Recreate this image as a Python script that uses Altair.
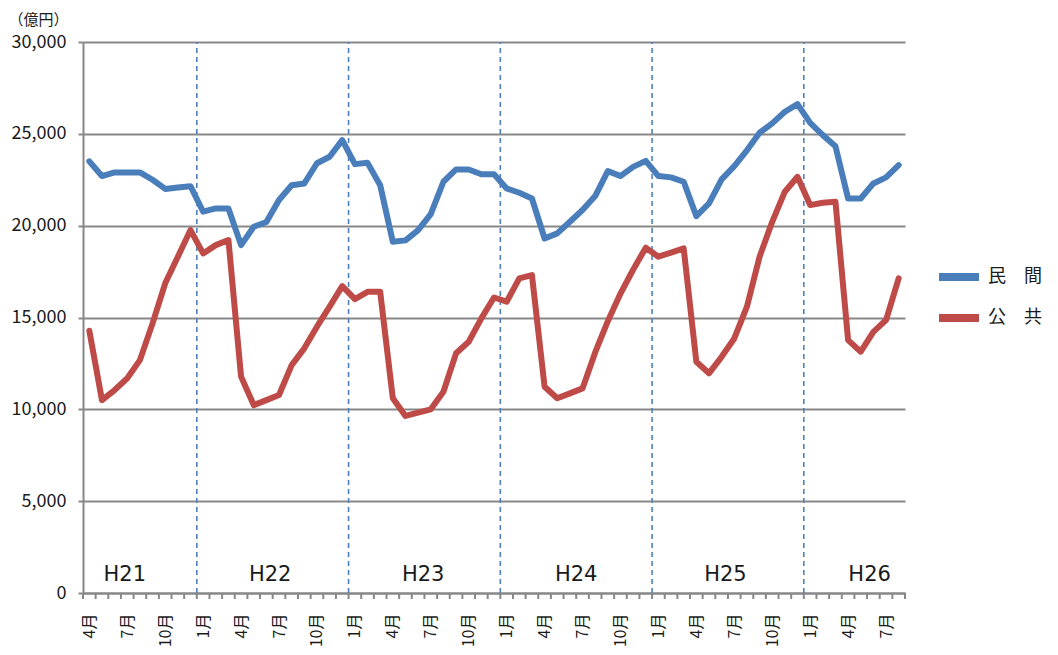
import json
import altair as alt
import pandas as pd

FONT = "Noto Sans CJK JP"

# ---- data (億円), monthly from H21 April to H26 August ----
month_names = ["4月", "5月", "6月", "7月", "8月", "9月", "10月", "11月", "12月", "1月", "2月", "3月"]
private = [23500, 22700, 22900, 22900, 22900, 22500, 22000, 22080, 22150,
           20760, 20940, 20940, 18940, 19940, 20200, 21400, 22200, 22300, 23400, 23750, 24660,
           23350, 23420, 22200, 19120, 19200, 19760, 20630, 22390, 23060, 23060, 22800, 22800,
           22030, 21790, 21480, 19300, 19580, 20210, 20850, 21610, 22970, 22700, 23200, 23530,
           22700, 22630, 22390, 20520, 21210, 22520, 23240, 24100, 25060, 25570, 26200, 26620,
           25600, 24930, 24330, 21480, 21480, 22300, 22630, 23300]
public = [14280, 10500, 11050, 11690, 12680, 14680, 16860, 18310, 19760,
          18490, 18940, 19220, 11780, 10230, 10500, 10780, 12410, 13320, 14500, 15590, 16710,
          16000, 16400, 16400, 10600, 9640, 9820, 10000, 10960, 13050, 13680, 14950, 16090,
          15860, 17130, 17310, 11230, 10600, 10870, 11140, 13100, 14800, 16300, 17600, 18800,
          18310, 18530, 18760, 12590, 11960, 12860, 13860, 15590, 18310, 20210, 21850, 22660,
          21120, 21250, 21300, 13770, 13140, 14220, 14860, 17130]
series_names = ["民　間", "公　共"]
series_colors = ["#4A7EBB", "#BE4B48"]
year_labels = ["H21", "H22", "H23", "H24", "H25", "H26"]
year_label_pos = [2.8, 14.3, 26.4, 38.5, 50.3, 61.7]
year_breaks = [8.5, 20.5, 32.5, 44.5, 56.5]
y_ticks = [0, 5000, 10000, 15000, 20000, 25000, 30000]

n = len(private)
period_labels = [month_names[i % 12] for i in range(n)]

lines_df = pd.DataFrame(
    [{"x": i, "y": v, "series": series_names[0]} for i, v in enumerate(private)]
    + [{"x": i, "y": v, "series": series_names[1]} for i, v in enumerate(public)]
)
breaks_df = pd.DataFrame({"x": year_breaks, "y": [0] * len(year_breaks), "y2": [30000] * len(year_breaks)})
ticks_df = pd.DataFrame({"x": [k - 0.5 for k in range(n + 1)], "y": [0] * (n + 1), "y2": [0] * (n + 1)})
text_df = pd.DataFrame({"x": year_label_pos, "y": [1000] * len(year_labels), "label": year_labels})

GRAY = "#888888"
TXT = "#1a1a1a"

x_enc = alt.X(
    "x:Q",
    scale=alt.Scale(domain=[-0.5, n - 0.5], nice=False, zero=False),
    axis=alt.Axis(
        values=list(range(0, n, 3)),
        labelExpr=f"{json.dumps(period_labels, ensure_ascii=False)}[datum.value]",
        labelAngle=270, labelAlign="right", labelBaseline="middle",
        labelPadding=20, labelFontSize=16, labelColor=TXT, labelFont=FONT,
        labelOverlap=False, labelFlush=False, labelLimit=200,
        ticks=False, grid=False, domainColor=GRAY, domainWidth=2, title=None,
    ),
)
y_axis = alt.Axis(
    values=y_ticks, format=",.0f", grid=True, gridColor=GRAY, gridWidth=2,
    domainColor=GRAY, domainWidth=2, tickColor=GRAY, tickSize=5, tickWidth=2,
    labelFontSize=18, labelPadding=12, labelColor=TXT, labelFont=FONT,
    title="（億円）", titleAngle=0, titleAlign="left", titleBaseline="middle",
    titleX=-75, titleY=-23, titleFontSize=15, titleFontWeight="normal",
    titleColor=TXT, titleFont=FONT,
)
y_scale = alt.Scale(domain=[0, 30000], nice=False, zero=True)
y_enc = alt.Y("y:Q", scale=y_scale, axis=y_axis)

breaks = alt.Chart(breaks_df).mark_rule(
    color="#4F81BD", strokeWidth=1.6, strokeDash=[5, 4]
).encode(x=x_enc, y=y_enc, y2="y2:Q")

ticks = alt.Chart(ticks_df).mark_rule(
    color=GRAY, strokeWidth=2, y2Offset=6
).encode(x=x_enc, y=y_enc, y2="y2:Q")

lines = alt.Chart(lines_df).mark_line(
    strokeWidth=6, strokeJoin="round", strokeCap="round"
).encode(
    x=x_enc, y=y_enc,
    color=alt.Color(
        "series:N",
        scale=alt.Scale(domain=series_names, range=series_colors),
        legend=alt.Legend(
            title=None, orient="none", legendX=852, legendY=211,
            symbolType="stroke", symbolStrokeWidth=8, symbolSize=1600,
            labelFontSize=18, labelFont=FONT, labelColor=TXT, labelOffset=5,
            rowPadding=1,
        ),
    ),
    detail="series:N",
)

texts = alt.Chart(text_df).mark_text(
    fontSize=21, font="DejaVu Sans", color=TXT, baseline="middle", align="center"
).encode(x=x_enc, y=y_enc, text="label:N")

chart = alt.layer(breaks, ticks, lines, texts).properties(
    width=822, height=551,
    autosize=alt.AutoSizeParams(type="none"),
    padding={"left": 75, "top": 34, "right": 145, "bottom": 54},
    background="white",
).configure_view(stroke=None)

chart.save("out.html", embed_options={"renderer": "svg", "actions": False})
